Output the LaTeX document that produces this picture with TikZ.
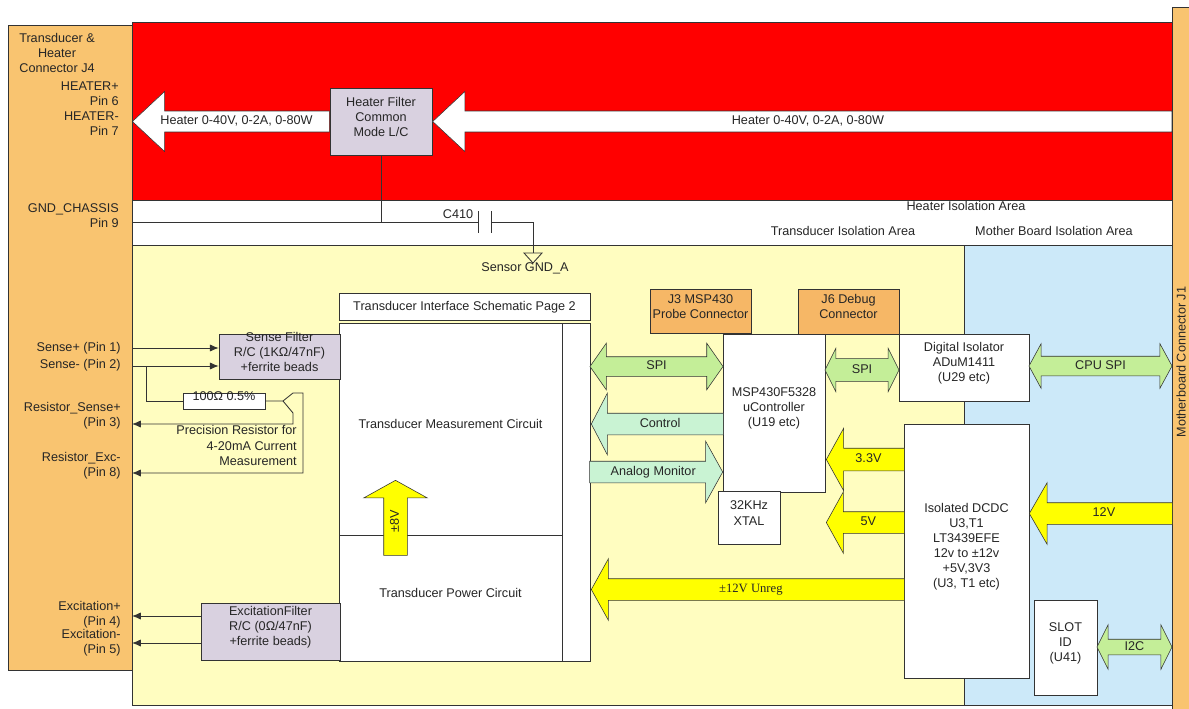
\documentclass[tikz,border=0pt]{standalone}
\usepackage{fontspec}
\setmainfont{Liberation Sans}
\newfontfamily\unregfont{Liberation Serif}
\usetikzlibrary{positioning, arrows.meta, shapes.arrows, fit}

\definecolor{plug}{HTML}{F9C470}
\definecolor{hdr}{HTML}{F6B766}
\definecolor{heatred}{HTML}{FF0000}
\definecolor{transbg}{HTML}{FFFDC0}
\definecolor{mbbg}{HTML}{CCE9F9}
\definecolor{lilac}{HTML}{D9D1E0}
\definecolor{lime}{HTML}{C4EE98}
\definecolor{mint}{HTML}{C9F3D3}
\definecolor{pwr}{HTML}{FFFF00}
\definecolor{linecol}{HTML}{333333}

\begin{document}
\begin{tikzpicture}[
        x=0.025cm, y=-0.025cm,
        every node/.style={font=\fontsize{9}{10.7}\selectfont, text=black!85},
        blk/.style={draw=linecol, fill=white, inner sep=0pt, align=center},
        filt/.style={blk, fill=lilac},
        hdrbox/.style={blk, fill=hdr},
        wire/.style={draw=linecol, line width=0.6pt},
        pin/.style={-{Latex[length=2.2mm, width=1.8mm]}},
        lbl/.style={align=right, anchor=east, inner sep=0pt},
        fat/.style={draw=linecol, text height=0.22cm, text depth=0.05cm, inner xsep=1pt, inner ysep=0.1275cm},
        one/.style={fat, single arrow, single arrow head extend=0.5cm, single arrow tip angle=122},
        two/.style={fat, double arrow, double arrow head extend=0.34cm, double arrow tip angle=112}
    ]
    \useasboundingbox (0,0) rectangle (1189,709);

    % Isolation areas and connectors
    \draw[linecol, fill=plug] (8,25) rectangle (132,670);
    \fill[plug] (1172,7) rectangle (1189,709);
    \draw[linecol] (1189,7) -- (1172,7) -- (1172,709);
    \draw[linecol, fill=heatred] (132,22) rectangle (1172,200);
    \draw[linecol, fill=transbg] (132,245) rectangle (964,705);
    \draw[linecol, fill=mbbg] (964,245) rectangle (1172,705);

    % Heater path
    \node[filt, fit={(330,88) (432,155)}] (hfilt) {Heater Filter\\Common\\Mode L/C};
    \node[one, fill=white, inner ysep=0.12cm, single arrow head extend=0.49cm, single arrow tip angle=86,
          minimum height=4.925cm, shape border rotate=180, anchor=tail] (hout) at (hfilt.west) {Heater 0-40V, 0-2A, 0-80W};
    \node[one, fill=white, inner ysep=0.12cm, single arrow head extend=0.49cm, single arrow tip angle=86,
          minimum height=18.475cm, shape border rotate=180, anchor=tip] (hin) at (hfilt.east) {Heater 0-40V, 0-2A, 0-80W};

    % Transducer interface
    \node[blk, fit={(339,323) (590,661)}] (tif) {};
    \node[blk, fit={(339,323) (562,535)}] (tim) {Transducer Measurement Circuit};
    \node[blk, fit={(339,535) (562,661)}] (tpc) {Transducer Power Circuit};
    \node[blk, minimum width=6.275cm, minimum height=0.675cm, above=0.05cm of tif] (tisp) {Transducer Interface Schematic Page 2};
    \node[filt, fit={(219,334) (340,379)}] (sfilt) {Sense Filter\\R/C (1KΩ/47nF)\\+ferrite beads};
    \node[filt, fit={(201,603) (340,660)}] (efilt) {ExcitationFilter\\R/C (0Ω/47nF)\\+ferrite beads)};
    \node[blk, fit={(183,393) (265,409)}] (rsense) {100Ω 0.5\%};

    % Controller and isolation
    \node[blk, fit={(723,334) (825,492)}] (msp) {MSP430F5328\\uController\\(U19 etc)};
    \node[blk, fit={(718,491) (780,544)}] (xtal) {32KHz\\XTAL};
    \node[hdrbox, fit={(650,289) (751,333)}] (j3) {J3 MSP430\\Probe Connector};
    \node[hdrbox, fit={(798,289) (899,334)}] (j6) {J6 Debug\\Connector};
    \node[blk, fit={(899,334) (1029,401)}] (diso) {Digital Isolator\\ADuM1411\\(U29 etc)};
    \node[blk, fit={(904,424) (1029,678)}] (dcdc) {Isolated DCDC\\U3,T1\\LT3439EFE\\12v to ±12v\\+5V,3V3\\(U3, T1 etc)};
    \node[blk, fit={(1034,600) (1097,695)}] (slot) {SLOT\\ID\\(U41)};

    % Signal arrows
    \node[two, fill=lime, minimum height=3.325cm, inner ysep=0.1025cm, double arrow head extend=0.3375cm, double arrow tip angle=110] (spia) at (656.5,366.5) {SPI};
    \node[one, fill=mint, minimum height=3.3cm, single arrow tip angle=125, shape border rotate=180, anchor=tip] (ctrl) at (591,424) {Control};
    \node[one, fill=mint, minimum height=3.325cm, anchor=tip] (anm) at (723,472) {Analog Monitor};
    \node[two, fill=lime, minimum height=1.85cm, inner ysep=0.14cm, double arrow head extend=0.2625cm, double arrow tip angle=127] (spib) at (862,370) {SPI};
    \node[two, fill=lime, minimum height=3.575cm, inner ysep=0.1025cm, double arrow head extend=0.3125cm, double arrow tip angle=123] (cspi) at (1100.5,366) {CPU SPI};
    \node[two, fill=lime, minimum height=1.875cm, inner ysep=0.0525cm, double arrow head extend=0.3625cm, double arrow tip angle=127] (i2c) at (1134.5,647) {I2C};

    % Power arrows
    \node[one, fill=pwr, minimum height=1.95cm, inner ysep=0.14cm, shape border rotate=180, anchor=tip] (v33) at (826,459.5) {3.3V};
    \node[one, fill=pwr, minimum height=1.95cm, shape border rotate=180, anchor=tip] (v5) at (826,522.5) {5V};
    \node[one, fill=pwr, minimum height=3.575cm, single arrow tip angle=120, shape border rotate=180, anchor=tip] (v12) at (1029,513.5) {12V};
    \node[one, fill=pwr, minimum height=7.825cm, shape border rotate=180, anchor=tip, font=\fontsize{9}{10.7}\unregfont] (unreg) at (591,589.5) {±12V Unreg};
    \node[one, fill=pwr, minimum height=1.875cm, inner ysep=0.1525cm, rotate=90, anchor=tip] (p8v) at (395.5,480) {±8V};

    % Pin wires
    \coordinate (p1) at (132,348);
    \coordinate (p2) at (132,366);
    \coordinate (p3) at (132,424);
    \coordinate (p8) at (132,473);
    \coordinate (p4) at (132,616);
    \coordinate (p5) at (132,643);
    \coordinate (p9) at (132,222);
    \coordinate (br) at (146,366);
    \coordinate (tap) at (283,401);
    \draw[wire, pin] (p1) -- (p1 -| sfilt.west);
    \draw[wire, pin] (p2) -- (p2 -| sfilt.west);
    \draw[wire] (br) |- (rsense.west);
    \draw[wire, pin] (rsense.east) -- (tap) -- ++(10,-8) -- ++(10,0) |- (p8);
    \draw[wire, pin] (tap) -- ++(10,12) |- (p3);
    \draw[wire, pin] (efilt.west |- p4) -- (p4);
    \draw[wire, pin] (efilt.west |- p5) -- (p5);

    % Chassis ground and C410
    \coordinate (c1) at (478,222);
    \coordinate (c2) at (491,222);
    \coordinate (gnd) at (533,253);
    \draw[wire] (hfilt.south) -- (hfilt.south |- p9);
    \draw[wire] (p9) -- (c1);
    \draw[wire] (478,211) -- (478,233) (491,211) -- (491,233);
    \draw[wire] (c2) -| (gnd);
    \draw[wire] (gnd) -- ++(-9,0) -- ++(9,10) -- ++(9,-10) -- cycle;

    % Labels
    \node[align=center] (j4t) at (57,53) {Transducer \&\\Heater\\Connector J4};
    \node[lbl] (htrpins) at (119,109) {HEATER+\\Pin 6\\HEATER-\\Pin 7};
    \node[lbl] (gndpin) at (119,215.5) {GND\_CHASSIS\\Pin 9};
    \node[lbl] (s1) at (121,348) {Sense+ (Pin 1)};
    \node[lbl] (s2) at (121,365) {Sense- (Pin 2)};
    \node[lbl] (r3) at (121,416) {Resistor\_Sense+\\(Pin 3)};
    \node[lbl] (r8) at (121,466) {Resistor\_Exc-\\(Pin 8)};
    \node[lbl] (e4) at (121,615) {Excitation+\\(Pin 4)};
    \node[lbl] (e5) at (121,642.5) {Excitation-\\(Pin 5)};
    \node[lbl] (prec) at (297,445.5) {Precision Resistor for\\4-20mA Current\\Measurement};
    \node (c410) at (458,214) {C410};
    \node (sgnd) at (525,268) {Sensor GND\_A};
    \node (hia) at (966,206) {Heater Isolation Area};
    \node (tia) at (843,231) {Transducer Isolation Area};
    \node (mbia) at (1054,231) {Mother Board Isolation Area};
    \node[rotate=90] (j1t) at (1181,362) {Motherboard Connector J1};

\end{tikzpicture}
\end{document}
